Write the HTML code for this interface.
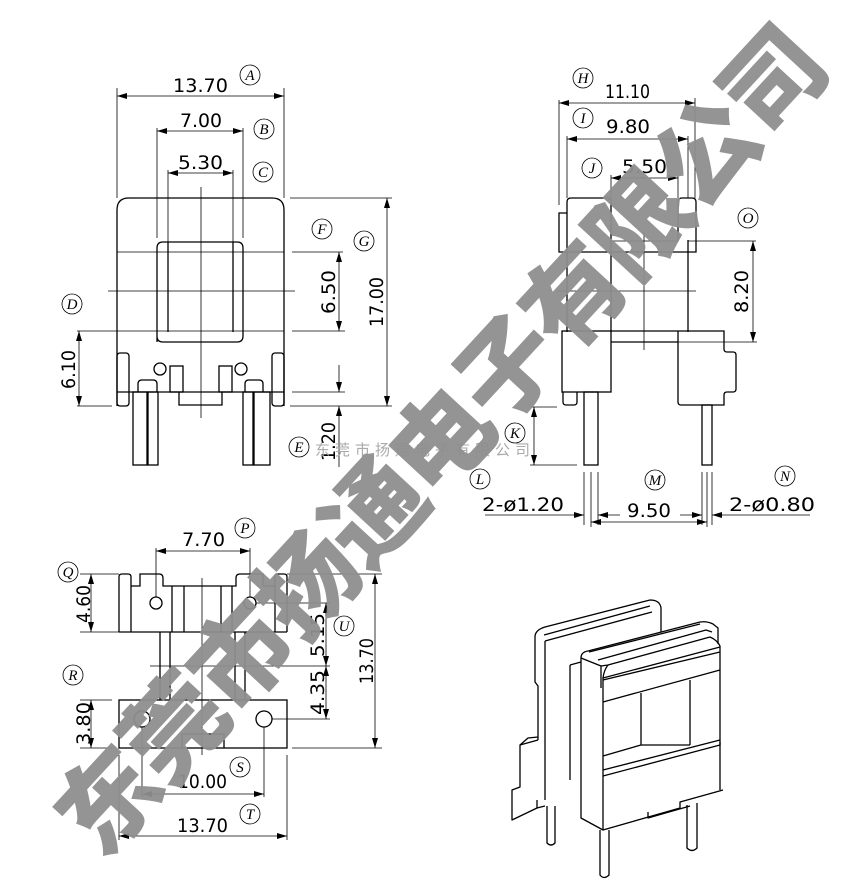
<!DOCTYPE html>
<html><head><meta charset="utf-8"><style>
html,body{margin:0;padding:0;background:#fff;}
svg{display:block;}
.l{stroke:#000;stroke-width:1.3;fill:none;}
.t{stroke:#000;stroke-width:0.8;fill:none;}
.n{font-family:"DejaVu Sans","Liberation Sans",sans-serif;font-size:19px;fill:#000;}
.c{font-family:"Liberation Serif",serif;font-style:italic;font-size:15px;fill:#000;text-anchor:middle;}
</style></head><body>
<svg width="842" height="893" viewBox="0 0 842 893" xmlns="http://www.w3.org/2000/svg">
<defs>
<marker id="a" viewBox="0 0 10 6" refX="10" refY="3" markerWidth="10" markerHeight="6" orient="auto-start-reverse" markerUnits="userSpaceOnUse"><path d="M0,0 L10,3 L0,6z" fill="#000"/></marker>
</defs>

<!-- ===== Top-left view ===== -->
<g>
<path class="l" d="M117,406 V210 Q117,198 129,198 H272 Q284,198 284,210 V406"/>
<path class="l" d="M157,342 V248 Q157,242 163,242 H237 Q243,242 243,248 V336 Q243,342 237,342 H163 Q157,342 157,336"/>
<line class="l" x1="168" y1="242" x2="168" y2="332"/><line class="l" x1="233" y1="242" x2="233" y2="332"/>
<line class="t" x1="117" y1="252" x2="284" y2="252"/><line class="t" x1="292" y1="252" x2="343" y2="252"/>
<line class="t" x1="108" y1="291" x2="295" y2="291"/>
<line class="t" x1="110" y1="331" x2="284" y2="331"/><line class="t" x1="292" y1="331" x2="345" y2="331"/>
<line class="t" x1="201" y1="187" x2="201" y2="418"/>
<line class="l" x1="117" y1="392" x2="284" y2="392"/>
<rect class="l" x="117" y="353" width="12" height="53" rx="3"/>
<rect class="l" x="272" y="353" width="12" height="53" rx="3"/>
<circle class="l" cx="160" cy="369" r="6"/><circle class="l" cx="241" cy="369" r="6"/>
<rect class="l" x="170" y="366" width="13" height="26"/><rect class="l" x="219" y="366" width="13" height="26"/>
<path class="l" d="M138,392 V384 Q138,380 142,380 H153 Q157,380 157,384 V392"/>
<path class="l" d="M245,392 V384 Q245,380 249,380 H259 Q263,380 263,384 V392"/>
<path class="l" d="M179,392 V405 H222 V392"/>
<rect class="l" x="133" y="392" width="14" height="73"/><rect class="l" x="148" y="392" width="10" height="73"/>
<rect class="l" x="243" y="392" width="10" height="73"/><rect class="l" x="254" y="392" width="16" height="73"/>
<line class="t" x1="117" y1="88" x2="117" y2="198"/><line class="t" x1="284" y1="88" x2="284" y2="198"/>
<line class="t" x1="117" y1="96" x2="284" y2="96" marker-start="url(#a)" marker-end="url(#a)"/>
<text class="n" x="173" y="92" textLength="55" lengthAdjust="spacingAndGlyphs">13.70</text>
<line class="t" x1="157" y1="128" x2="157" y2="238"/><line class="t" x1="243" y1="128" x2="243" y2="238"/>
<line class="t" x1="157" y1="131" x2="243" y2="131" marker-start="url(#a)" marker-end="url(#a)"/>
<text class="n" x="180" y="127" textLength="42" lengthAdjust="spacingAndGlyphs">7.00</text>
<line class="t" x1="168" y1="170" x2="168" y2="242"/><line class="t" x1="233" y1="170" x2="233" y2="242"/>
<line class="t" x1="168" y1="173" x2="233" y2="173" marker-start="url(#a)" marker-end="url(#a)"/>
<text class="n" x="178" y="169" textLength="45" lengthAdjust="spacingAndGlyphs">5.30</text>
<line class="t" x1="339" y1="252" x2="339" y2="331" marker-start="url(#a)" marker-end="url(#a)"/>
<text class="n" transform="translate(335,314) rotate(-90)" textLength="44" lengthAdjust="spacingAndGlyphs">6.50</text>
<line class="t" x1="290" y1="198" x2="392" y2="198"/><line class="t" x1="290" y1="406" x2="392" y2="406"/>
<line class="t" x1="387" y1="198" x2="387" y2="406" marker-start="url(#a)" marker-end="url(#a)"/>
<text class="n" transform="translate(383,327) rotate(-90)" textLength="50" lengthAdjust="spacingAndGlyphs">17.00</text>
<line class="t" x1="77" y1="331" x2="110" y2="331"/><line class="t" x1="77" y1="406" x2="112" y2="406"/>
<line class="t" x1="79" y1="331" x2="79" y2="406" marker-start="url(#a)" marker-end="url(#a)"/>
<text class="n" transform="translate(75,389) rotate(-90)" textLength="39" lengthAdjust="spacingAndGlyphs">6.10</text>
<line class="t" x1="292" y1="392" x2="345" y2="392"/>
<line class="t" x1="339" y1="365" x2="339" y2="392" marker-end="url(#a)"/>
<line class="t" x1="339" y1="467" x2="339" y2="406" marker-end="url(#a)"/>
<text class="n" transform="translate(335,461) rotate(-90)" textLength="39" lengthAdjust="spacingAndGlyphs">1.20</text>
<circle class="t" cx="250" cy="75" r="10"/><text class="c" x="250" y="80">A</text>
<circle class="t" cx="264" cy="129" r="10"/><text class="c" x="264" y="134">B</text>
<circle class="t" cx="263" cy="172" r="10"/><text class="c" x="263" y="177">C</text>
<circle class="t" cx="322" cy="229" r="10"/><text class="c" x="322" y="234">F</text>
<circle class="t" cx="364" cy="241" r="10"/><text class="c" x="364" y="246">G</text>
<circle class="t" cx="72" cy="304" r="10"/><text class="c" x="72" y="309">D</text>
<circle class="t" cx="299" cy="447" r="10"/><text class="c" x="299" y="452">E</text>
</g>

<!-- ===== Top-right view ===== -->
<g>
<path class="l" d="M567,332 V202 Q567,198 571,198 H607 Q611,198 611,202 V332"/>
<path class="l" d="M567,213 H559 V252 H696 V202 Q696,198 692,198 H682 Q678,198 678,202 V241"/>
<line class="l" x1="688" y1="240" x2="688" y2="332"/>
<line class="t" x1="611" y1="241" x2="678" y2="241"/><line class="t" x1="688" y1="241" x2="756" y2="241"/>
<line class="t" x1="644" y1="232" x2="644" y2="350"/>
<line class="t" x1="557" y1="291" x2="696" y2="291"/>
<rect class="l" x="562" y="331" width="49" height="61"/>
<path class="l" d="M563,392 V402 Q563,405 566,405 H574 Q577,405 577,402 V392"/>
<path class="l" d="M611,331 H724 V349 Q724,352 727,352 H733 Q736,352 736,355 V389 Q736,392 733,392 H727 Q724,392 724,395 V405 H681 Q678,405 678,402 V331"/>
<line class="l" x1="611" y1="342" x2="678" y2="342"/>
<rect class="l" x="584" y="392" width="14" height="73"/>
<rect class="l" x="702" y="405" width="10" height="60"/>
<line class="t" x1="559" y1="100" x2="559" y2="205"/><line class="t" x1="695" y1="98" x2="695" y2="198"/>
<line class="t" x1="559" y1="103" x2="695" y2="103" marker-start="url(#a)" marker-end="url(#a)"/>
<text class="n" x="605" y="98" textLength="45" lengthAdjust="spacingAndGlyphs">11.10</text>
<line class="t" x1="567" y1="136" x2="567" y2="198"/><line class="t" x1="688" y1="136" x2="688" y2="198"/>
<line class="t" x1="567" y1="139" x2="688" y2="139" marker-start="url(#a)" marker-end="url(#a)"/>
<text class="n" x="606" y="133" textLength="44" lengthAdjust="spacingAndGlyphs">9.80</text>
<line class="t" x1="611" y1="175" x2="611" y2="241"/><line class="t" x1="678" y1="175" x2="678" y2="198"/>
<line class="t" x1="611" y1="178" x2="678" y2="178" marker-start="url(#a)" marker-end="url(#a)"/>
<text class="n" x="622" y="173" textLength="45" lengthAdjust="spacingAndGlyphs">5.50</text>
<line class="t" x1="678" y1="342" x2="757" y2="342"/>
<line class="t" x1="753" y1="241" x2="753" y2="342" marker-start="url(#a)" marker-end="url(#a)"/>
<text class="n" transform="translate(748,313) rotate(-90)" textLength="43" lengthAdjust="spacingAndGlyphs">8.20</text>
<line class="t" x1="530" y1="407" x2="557" y2="407"/><line class="t" x1="530" y1="465" x2="577" y2="465"/>
<line class="t" x1="534" y1="407" x2="534" y2="465" marker-start="url(#a)" marker-end="url(#a)"/>
<line class="t" x1="584" y1="472" x2="584" y2="525"/><line class="t" x1="591" y1="472" x2="591" y2="527"/><line class="t" x1="598" y1="472" x2="598" y2="525"/>
<line class="t" x1="702" y1="472" x2="702" y2="525"/><line class="t" x1="707" y1="472" x2="707" y2="527"/><line class="t" x1="712" y1="472" x2="712" y2="525"/>
<line class="t" x1="485" y1="515" x2="584" y2="515" marker-end="url(#a)"/>
<line class="t" x1="598" y1="515" x2="620" y2="515" marker-start="url(#a)"/>
<line class="t" x1="680" y1="515" x2="702" y2="515" marker-end="url(#a)"/>
<line class="t" x1="810" y1="515" x2="712" y2="515" marker-end="url(#a)"/>
<line class="t" x1="591" y1="522" x2="707" y2="522" marker-start="url(#a)" marker-end="url(#a)"/>
<text class="n" x="482" y="511" textLength="82" lengthAdjust="spacingAndGlyphs">2-ø1.20</text>
<text class="n" x="627" y="517" textLength="44" lengthAdjust="spacingAndGlyphs">9.50</text>
<text class="n" x="729" y="511" textLength="86" lengthAdjust="spacingAndGlyphs">2-ø0.80</text>
<circle class="t" cx="583" cy="78" r="10"/><text class="c" x="583" y="83">H</text>
<circle class="t" cx="583" cy="118" r="10"/><text class="c" x="583" y="123">I</text>
<circle class="t" cx="592" cy="168" r="10"/><text class="c" x="592" y="173">J</text>
<circle class="t" cx="748" cy="218" r="10"/><text class="c" x="748" y="223">O</text>
<circle class="t" cx="515" cy="433" r="10"/><text class="c" x="515" y="438">K</text>
<circle class="t" cx="480" cy="479" r="10"/><text class="c" x="480" y="484">L</text>
<circle class="t" cx="655" cy="480" r="10"/><text class="c" x="655" y="485">M</text>
<circle class="t" cx="785" cy="476" r="10"/><text class="c" x="785" y="481">N</text>
</g>

<!-- ===== Bottom-left view ===== -->
<g>
<path class="l" d="M119,632 V577 Q119,574 122,574 H128 Q131,574 131,577 V632"/>
<path class="l" d="M275,632 V577 Q275,574 278,574 H284 Q287,574 287,577 V632"/>
<path class="l" d="M131,586 H140 V574 H159 Q163,574 163,578 V586 H236 V578 Q236,574 240,574 H263 V586 H275"/>
<line class="l" x1="119" y1="632" x2="287" y2="632"/>
<line class="l" x1="172" y1="586" x2="172" y2="632"/><line class="l" x1="184" y1="586" x2="184" y2="632"/>
<line class="l" x1="221" y1="586" x2="221" y2="632"/><line class="l" x1="232" y1="586" x2="232" y2="632"/>
<circle class="l" cx="156" cy="603" r="6"/><circle class="l" cx="250" cy="603" r="6"/>
<line class="t" x1="202" y1="578" x2="202" y2="755"/>
<line class="l" x1="160" y1="632" x2="160" y2="700"/><line class="l" x1="170" y1="632" x2="170" y2="700"/>
<line class="l" x1="235" y1="632" x2="235" y2="700"/><line class="l" x1="245" y1="632" x2="245" y2="700"/>
<line class="t" x1="150" y1="666" x2="330" y2="666"/>
<rect class="l" x="119" y="700" width="168" height="48"/>
<circle class="l" cx="142" cy="719" r="8"/><circle class="l" cx="264" cy="719" r="8"/>
<path class="l" d="M182,748 V734 H224 V748"/>
<line class="t" x1="156" y1="548" x2="156" y2="597"/><line class="t" x1="250" y1="548" x2="250" y2="597"/>
<line class="t" x1="156" y1="551" x2="250" y2="551" marker-start="url(#a)" marker-end="url(#a)"/>
<text class="n" x="182" y="546" textLength="43" lengthAdjust="spacingAndGlyphs">7.70</text>
<line class="t" x1="80" y1="574" x2="119" y2="574"/><line class="t" x1="80" y1="632" x2="119" y2="632"/>
<line class="t" x1="91" y1="574" x2="91" y2="632" marker-start="url(#a)" marker-end="url(#a)"/>
<text class="n" transform="translate(90,623) rotate(-90)" textLength="38" lengthAdjust="spacingAndGlyphs">4.60</text>
<line class="t" x1="80" y1="700" x2="112" y2="700"/><line class="t" x1="80" y1="748" x2="112" y2="748"/>
<line class="t" x1="91" y1="700" x2="91" y2="748" marker-start="url(#a)" marker-end="url(#a)"/>
<text class="n" transform="translate(90,745) rotate(-90)" textLength="43" lengthAdjust="spacingAndGlyphs">3.80</text>
<line class="t" x1="256" y1="603" x2="330" y2="603"/><line class="t" x1="272" y1="719" x2="330" y2="719"/>
<line class="t" x1="326" y1="603" x2="326" y2="666" marker-start="url(#a)" marker-end="url(#a)"/>
<line class="t" x1="326" y1="666" x2="326" y2="719" marker-start="url(#a)" marker-end="url(#a)"/>
<text class="n" transform="translate(324,657) rotate(-90)" textLength="44" lengthAdjust="spacingAndGlyphs">5.15</text>
<text class="n" transform="translate(324,715) rotate(-90)" textLength="45" lengthAdjust="spacingAndGlyphs">4.35</text>
<line class="t" x1="287" y1="574" x2="382" y2="574"/><line class="t" x1="292" y1="748" x2="382" y2="748"/>
<line class="t" x1="375" y1="574" x2="375" y2="748" marker-start="url(#a)" marker-end="url(#a)"/>
<text class="n" transform="translate(373,684) rotate(-90)" textLength="46" lengthAdjust="spacingAndGlyphs">13.70</text>
<line class="t" x1="142" y1="727" x2="142" y2="797"/><line class="t" x1="264" y1="727" x2="264" y2="797"/>
<line class="t" x1="142" y1="794" x2="264" y2="794" marker-start="url(#a)" marker-end="url(#a)"/>
<text class="n" x="178" y="788" textLength="49" lengthAdjust="spacingAndGlyphs">10.00</text>
<line class="t" x1="119" y1="755" x2="119" y2="840"/><line class="t" x1="287" y1="755" x2="287" y2="840"/>
<line class="t" x1="119" y1="836" x2="287" y2="836" marker-start="url(#a)" marker-end="url(#a)"/>
<text class="n" x="177" y="832" textLength="51" lengthAdjust="spacingAndGlyphs">13.70</text>
<circle class="t" cx="245" cy="528" r="10"/><text class="c" x="245" y="533">P</text>
<circle class="t" cx="68" cy="572" r="10"/><text class="c" x="68" y="577">Q</text>
<circle class="t" cx="73" cy="675" r="10"/><text class="c" x="73" y="680">R</text>
<circle class="t" cx="344" cy="626" r="10"/><text class="c" x="344" y="631">U</text>
<circle class="t" cx="240" cy="767" r="10"/><text class="c" x="240" y="772">S</text>
<circle class="t" cx="250" cy="814" r="10"/><text class="c" x="250" y="819">T</text>
</g>

<!-- ===== 3D view ===== -->
<g class="l" stroke-linejoin="round">
<path d="M535,637 Q535,630 545,627 L650,600 Q660,600 661,608 L661,632"/>
<path d="M544,635 L650,606"/>
<path d="M545,641 L652,612"/>
<path d="M535,637 V682 L538,686 V740"/>
<path d="M545,641 V800"/>
<path d="M538,740 L520,745 V787 L512,790 V820 L537,808 L545,806"/>
<path d="M520,745 L528,738 L538,737"/>
<path d="M537,808 V800"/>
<path d="M547,806 V843 Q551,847 555,843 V806"/>
<path d="M581,658 Q581,652 588,651 L700,622 Q707,621 713,624 L718,628 V644"/>
<path d="M589,652 L700,624"/>
<path d="M581,658 V818 L603,830"/>
<path d="M581,658 L601,666 V688"/>
<path d="M601,666 L608,665 L710,637 Q717,640 720,646 V790"/>
<path d="M608,665 Q604,670 603,678 V830 L680,808 V802 L723,790"/>
<path d="M603,680 L720,652"/>
<path d="M603,702 L720,670"/>
<path d="M603,678 L720,647"/>
<path d="M598,660 L706,630 L712,632"/>
<path d="M641,693 V745 L603,756"/>
<path d="M690,680 V745"/>
<path d="M641,745 L690,745"/>
<path d="M603,776 L720,745 V742"/>
<path d="M603,770 L720,740"/>
<path d="M648,812 V818 L690,806"/>
<path d="M570,665 L581,662 M570,665 V780"/>
<path d="M600,830 V875 Q604,880 609,875 V830"/>
<path d="M687,805 V848 Q692,853 697,848 V803"/>
</g>

<text x="315" y="455" font-family="'Liberation Sans','Noto Sans CJK SC',sans-serif" font-size="15" fill="#aaa" textLength="215" lengthAdjust="spacing">东莞市扬通电子有限公司</text>

<g transform="translate(441,440) rotate(-47.3)">
<text x="0" y="36" text-anchor="middle" font-family="'Noto Sans CJK SC','WenQuanYi Zen Hei',sans-serif" font-weight="900" font-size="100" fill="#8f8f8f" textLength="1080" lengthAdjust="spacing" opacity="0.95">东莞市扬通电子有限公司</text>
</g>
</svg>
</body></html>
